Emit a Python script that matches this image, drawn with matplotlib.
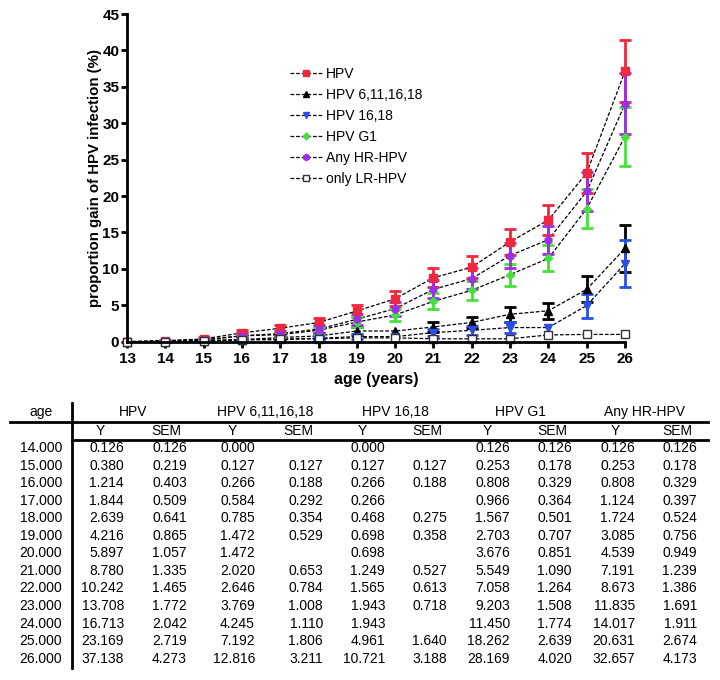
import numpy as np
import matplotlib
matplotlib.use('Agg')
import matplotlib.pyplot as plt

plt.rcParams['font.family'] = ['Liberation Sans', 'DejaVu Sans']

# ages in the table (the plot also starts at 13 with 0)
ages = [14, 15, 16, 17, 18, 19, 20, 21, 22, 23, 24, 25, 26]
nan = np.nan

hpv_y = [0.126, 0.380, 1.214, 1.844, 2.639, 4.216, 5.897, 8.780, 10.242, 13.708, 16.713, 23.169, 37.138]
hpv_sem = [0.126, 0.219, 0.403, 0.509, 0.641, 0.865, 1.057, 1.335, 1.465, 1.772, 2.042, 2.719, 4.273]
v4_y = [0.000, 0.127, 0.266, 0.584, 0.785, 1.472, 1.472, 2.020, 2.646, 3.769, 4.245, 7.192, 12.816]
v4_sem = [nan, 0.127, 0.188, 0.292, 0.354, 0.529, nan, 0.653, 0.784, 1.008, 1.110, 1.806, 3.211]
v2_y = [0.000, 0.127, 0.266, 0.266, 0.468, 0.698, 0.698, 1.249, 1.565, 1.943, 1.943, 4.961, 10.721]
v2_sem = [nan, 0.127, 0.188, nan, 0.275, 0.358, nan, 0.527, 0.613, 0.718, nan, 1.640, 3.188]
g1_y = [0.126, 0.253, 0.808, 0.966, 1.567, 2.703, 3.676, 5.549, 7.058, 9.203, 11.450, 18.262, 28.169]
g1_sem = [0.126, 0.178, 0.329, 0.364, 0.501, 0.707, 0.851, 1.090, 1.264, 1.508, 1.774, 2.639, 4.020]
hr_y = [0.126, 0.253, 0.808, 1.124, 1.724, 3.085, 4.539, 7.191, 8.673, 11.835, 14.017, 20.631, 32.657]
hr_sem = [0.126, 0.178, 0.329, 0.397, 0.524, 0.756, 0.949, 1.239, 1.386, 1.691, 1.911, 2.674, 4.173]
# only LR-HPV is not in the table
lr_y = [0.0, 0.13, 0.27, 0.40, 0.40, 0.53, 0.53, 0.40, 0.40, 0.40, 0.93, 1.0, 1.0]

labels = ['HPV', 'HPV 6,11,16,18', 'HPV 16,18', 'HPV G1', 'Any HR-HPV', 'only LR-HPV']
table_groups = ['HPV', 'HPV 6,11,16,18', 'HPV 16,18', 'HPV G1', 'Any HR-HPV']

fig = plt.figure(figsize=(7.2, 6.8), dpi=100)
ax = fig.add_axes([127 / 720, 1 - 341.7 / 680, 498 / 720, 327.7 / 680])

series = [
    (hpv_y, hpv_sem, '#f0283c', 's', 'full'),
    (v4_y, v4_sem, 'black', '^', 'full'),
    (v2_y, v2_sem, '#2a4ee6', 'v', 'full'),
    (g1_y, g1_sem, '#46e03a', 'D', 'full'),
    (hr_y, hr_sem, '#9b2fe6', 'h', 'full'),
    (lr_y, [nan] * len(lr_y), '#333333', 's', 'none'),
]

x = [13] + ages
for (y, sem, col, mk, fill), lab in zip(series, labels):
    yy = [0.0] + list(y)
    ee = [nan] + list(sem)
    ax.plot(x, yy, ls=(0, (3, 1.5)), color='black', lw=0.9, zorder=2, clip_on=False)
    eb = ax.errorbar(x, yy, yerr=ee, fmt='none', ecolor=col, elinewidth=2,
                     capsize=4, capthick=2, zorder=3)
    for art in eb.lines[1] + eb.lines[2]:
        art.set_clip_on(False)
    ms = 4.5 if mk == 'D' else 5.5
    ax.plot(x, yy, ls='none', marker=mk, color=col, ms=ms, mfc=col if fill == 'full' else 'white',
            mec=col, mew=1, zorder=4, clip_on=False)
    ax.plot([], [], ls=(0, (3, 1.5)), color='black', lw=0.9, marker=mk, ms=ms - 1,
            mfc=col if fill == 'full' else 'white', mec=col, label=lab)

ax.set_xlim(13, 26)
ax.set_ylim(0, 45)
ax.set_xticks(range(13, 27))
ax.set_yticks(range(0, 46, 5))
ax.spines['top'].set_visible(False)
ax.spines['right'].set_visible(False)
ax.spines['left'].set_linewidth(2)
ax.spines['bottom'].set_linewidth(2)
ax.spines['left'].set_zorder(5)
ax.spines['bottom'].set_zorder(5)
ax.tick_params(width=2, length=4, labelsize=11)
ax.tick_params(axis='y', pad=1.5)
for t in ax.get_xticklabels() + ax.get_yticklabels():
    t.set_fontweight('bold')
ax.set_xlabel('age (years)', fontsize=11.5, fontweight='bold', labelpad=4)
ax.set_ylabel('proportion gain of HPV infection (%)', fontsize=10.8, fontweight='bold', labelpad=0)

handles, labs = ax.get_legend_handles_labels()
fig.legend(handles, labs, loc='upper left', bbox_to_anchor=(290 / 720, 1 - 67 / 680),
           frameon=False, fontsize=10, handlelength=2.3, handletextpad=0.3,
           labelspacing=0.5, borderpad=0, borderaxespad=0)

# table part, drawn in pixel coordinates
tab = fig.add_axes([0, 0, 1, 1])
tab.set_xlim(0, 720)
tab.set_ylim(680, 0)
tab.axis('off')
tab.patch.set_alpha(0)

tab.plot([10, 708], [422, 422], color='black', lw=2)
tab.plot([72, 708], [440, 440], color='black', lw=2)
tab.plot([72, 72], [403, 668], color='black', lw=2)

fs = 10
tab.text(41, 412, 'age', ha='center', va='center', fontsize=fs)
group_x = [133, 265, 395, 520, 645]
for g, gx in zip(table_groups, group_x):
    tab.text(gx, 412, g, ha='center', va='center', fontsize=fs)
sub_x = [100, 166, 232, 298, 362, 427, 487, 552, 615, 677]
for i, sx in enumerate(sub_x):
    tab.text(sx, 431, 'Y' if i % 2 == 0 else 'SEM', ha='center', va='center', fontsize=fs)

cols = [hpv_y, hpv_sem, v4_y, v4_sem, v2_y, v2_sem, g1_y, g1_sem, hr_y, hr_sem]
col_right = [124, 187, 255, 323, 385, 447, 510, 572, 635, 697]
for r, a in enumerate(ages):
    yr = 448 + r * 17.56
    tab.text(62, yr, '%.3f' % a, ha='right', va='center', fontsize=fs)
    for c, xr in zip(cols, col_right):
        v = c[r]
        if not np.isnan(v):
            tab.text(xr, yr, '%.3f' % v, ha='right', va='center', fontsize=fs)

fig.savefig('out.png', dpi=100)
